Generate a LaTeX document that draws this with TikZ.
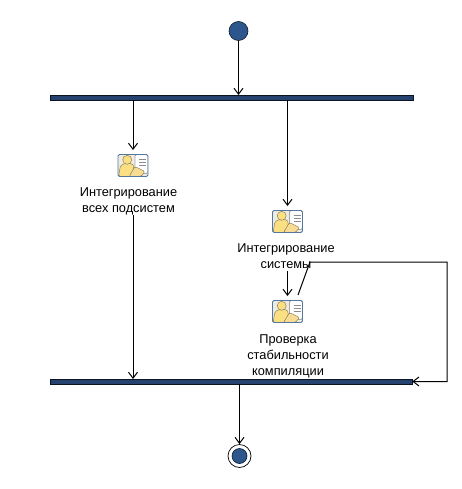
\documentclass[tikz,border=0pt]{standalone}
\usepackage{fontspec}
\setmainfont{Liberation Sans}
\usetikzlibrary{arrows.meta}
\definecolor{barblue}{RGB}{38,66,110}
\definecolor{dotblue}{RGB}{44,86,140}
\definecolor{iconedge}{RGB}{84,120,160}
\definecolor{iconback}{RGB}{238,236,225}
\definecolor{iconyellow}{RGB}{250,224,130}
\definecolor{icontan}{RGB}{248,220,150}
\tikzset{
    flow/.style={draw=black, line width=1pt, -{Straight Barb[length=6pt,width=9pt]}},
    syncbar/.style={draw=black!70!barblue, fill=barblue, minimum height=4.5pt, inner sep=0pt, line width=0.4pt},
    startdot/.style={circle, draw=black!70!dotblue, fill=dotblue, minimum size=19pt, inner sep=0pt, line width=0.6pt},
    enddot/.style={circle, draw=black!70!dotblue, fill=dotblue, minimum size=15pt, inner sep=0pt, line width=0.6pt},
    endring/.style={circle, draw=black, minimum size=23pt, inner sep=0pt, line width=0.7pt},
    tasklabel/.style={align=center, font=\fontsize{12.8}{16}\selectfont, inner sep=0pt},
    taskicon/.style={rectangle, rounded corners=1.5pt, draw=iconedge, fill=iconback, line width=0.9pt,
        minimum width=30pt, minimum height=22pt, inner sep=0pt,
        path picture={
            \fill[white, draw=black!35] (2,-11) rectangle (15,8);
            \foreach \liney in {-6,-3,0}
                \draw[black!45, line width=0.6pt] (6,\liney) -- (13,\liney);
            \fill[iconyellow, draw=black!50!icontan, line width=0.4pt] (-14.5,11) -- (-12.5,0) -- (-8,-2) -- (-1,-2) -- (1,1) -- (-1,11) -- cycle;
            \fill[iconyellow, draw=black!50!icontan, line width=0.4pt] (-5.8,-5.7) circle (4.5);
            \fill[icontan, draw=black!50!icontan, line width=0.4pt] (-4,11) -- (2,1) -- (12,6) -- (8,11) -- cycle;
        }},
}
\begin{document}
\begin{tikzpicture}[x=1pt, y=-1pt]
    \useasboundingbox[fill=white] (0,0) rectangle (461,489);
    % top
    \node[startdot] (start) at (238.5,31) {};
    \node[syncbar, minimum width=363pt] (forkbar) at (231.5,97.5) {};
    % left branch
    \node[taskicon] (iconall) at (133,165.5) {};
    \node[tasklabel, anchor=north] (labelall) at (128.5,187) {Интегрирование\\всех подсистем};
    % right branch
    \node[taskicon] (iconsys) at (287.5,221.5) {};
    \node[tasklabel, anchor=north] (labelsys) at (286,243) {Интегрирование\\системы};
    \node[taskicon] (iconcheck) at (287.5,311.5) {};
    \node[tasklabel, anchor=north] (labelcheck) at (288,334) {Проверка\\стабильности\\компиляции};
    % bottom
    \node[syncbar, minimum width=362pt] (joinbar) at (231,381.5) {};
    \node[enddot] (finish) at (239.5,456) {};
    \node[endring] (finishring) at (239.5,456) {};
    % loop corners
    \coordinate (loopa) at (298,295);
    \coordinate (loopb) at (310,262);
    \coordinate (loopc) at (447,262);
    \coordinate (loopd) at (447,381.5);
    % arrows
    \draw[flow] (start) -- (start |- forkbar.north);
    \draw[flow, shorten >=4pt] (iconall |- forkbar.south) -- (iconall.north);
    \draw[flow, shorten >=4pt] (iconsys |- forkbar.south) -- (iconsys.north);
    \draw[flow] (labelall.south -| iconall) -- (iconall |- joinbar.north);
    \draw[flow] (iconcheck |- labelsys.south) ++(0,3) -- ([yshift=4pt]iconcheck.north);
    \draw[flow] (loopa) -- (loopb) -- (loopc) -- (loopd) -- (joinbar.east);
    \draw[flow] (finish |- joinbar.south) -- (finishring.north);
\end{tikzpicture}
\end{document}
